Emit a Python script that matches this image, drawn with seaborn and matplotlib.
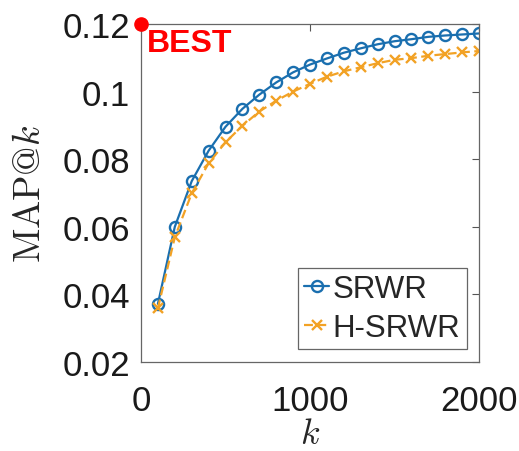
import matplotlib
matplotlib.use("Agg")
import matplotlib.pyplot as plt
import seaborn as sns
import pandas as pd
import numpy as np

k_values = [100, 200, 300, 400, 500, 600, 700, 800, 900, 1000,
            1100, 1200, 1300, 1400, 1500, 1600, 1700, 1800, 1900, 2000]
srwr = [0.0372, 0.0600, 0.0735, 0.0825, 0.0896, 0.0949, 0.0991, 0.1027, 0.1057, 0.1080,
        0.1098, 0.1115, 0.1128, 0.1140, 0.1149, 0.1155, 0.1162, 0.1166, 0.1169, 0.1172]
h_srwr = [0.0359, 0.0569, 0.0699, 0.0788, 0.0850, 0.0899, 0.0941, 0.0973, 0.1000, 0.1023,
          0.1044, 0.1060, 0.1072, 0.1084, 0.1094, 0.1099, 0.1106, 0.1111, 0.1116, 0.1120]
best_point = (0, 0.12)
x_ticks = [0, 1000, 2000]
y_ticks = [0.02, 0.04, 0.06, 0.08, 0.1, 0.12]
y_tick_labels = ["0.02", "0.04", "0.06", "0.08", "0.1", "0.12"]

sns.set_style("white")
plt.rcParams["font.family"] = ["Liberation Sans", "DejaVu Sans"]
plt.rcParams["mathtext.fontset"] = "cm"

blue = "#1A6FAF"
orange = "#F2A225"

fig = plt.figure(figsize=(5.19, 4.52), dpi=100)
ax = fig.add_axes([0.2717, 0.197, 0.923 - 0.2717, 0.9447 - 0.197])

df1 = pd.DataFrame({"k": k_values, "MAP": srwr})
df2 = pd.DataFrame({"k": k_values, "MAP": h_srwr})
sns.lineplot(data=df1, x="k", y="MAP", ax=ax, color=blue, linewidth=1.6,
             marker="o", markersize=8, markerfacecolor="none",
             markeredgecolor=blue, markeredgewidth=1.7, label="SRWR")
sns.lineplot(data=df2, x="k", y="MAP", ax=ax, color=orange, linewidth=1.6,
             linestyle=(0, (4, 2)), marker="x", markersize=7,
             markeredgecolor=orange, markeredgewidth=1.7, label="H-SRWR")

ax.plot([best_point[0]], [best_point[1]], marker="o", color="red",
        markersize=9.5, clip_on=False, zorder=5)
ax.annotate("BEST", xy=best_point, xytext=(4, -3), textcoords="offset points",
            ha="left", va="top", color="red", fontsize=23, fontweight="bold")

ax.set_xlim(0, 2000)
ax.set_ylim(0.02, 0.12)
ax.set_xticks(x_ticks)
ax.set_xticklabels([str(t) for t in x_ticks])
ax.set_yticks(y_ticks)
ax.set_yticklabels(y_tick_labels)
ax.tick_params(axis="both", direction="in", length=5, width=0.8,
               color="#555555", labelsize=25, top=True, right=True,
               labelcolor="#1a1a1a")
ax.tick_params(axis="x", pad=16)
ax.tick_params(axis="y", pad=8)
for s in ax.spines.values():
    s.set_color("#666666")
    s.set_linewidth(0.9)

ax.set_xlabel(r"$k$", fontsize=26, labelpad=-1)
ax.set_ylabel(r"$\mathrm{MAP@}k$", fontsize=27, labelpad=10)

leg = ax.legend(loc="lower right", fontsize=22.5, handlelength=0.8,
                handletextpad=0.1, borderpad=0.2, borderaxespad=0.4,
                labelspacing=0.3, fancybox=False, framealpha=1)
leg.get_frame().set_edgecolor("#666666")
leg.get_frame().set_linewidth(0.9)

fig.savefig("out.png", dpi=100)
